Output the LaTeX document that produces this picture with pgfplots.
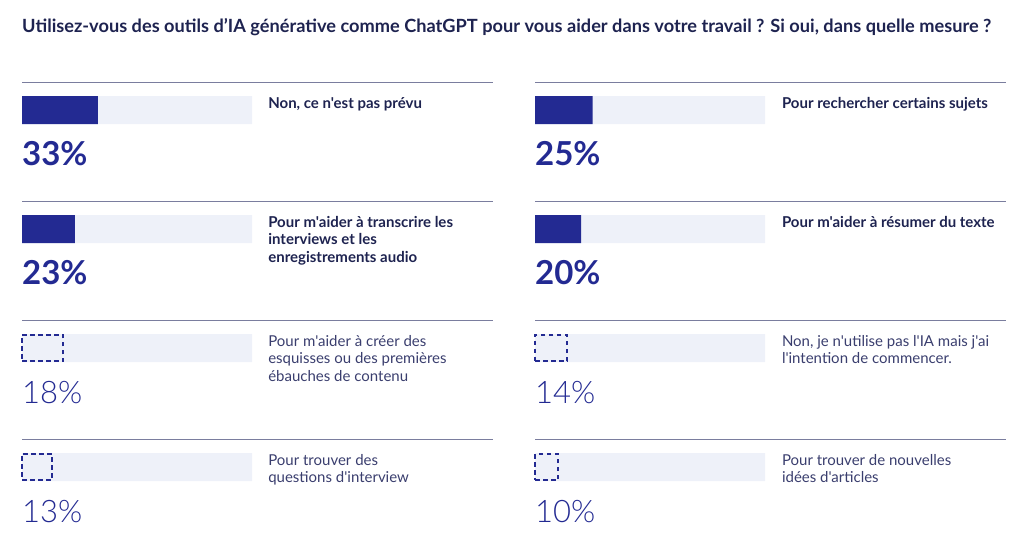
\documentclass[border=0pt]{standalone}
\usepackage{pgfplots}
\pgfplotsset{compat=1.18}
\usepackage{fontspec}
\newfontfamily\lato{Lato}
\newfontfamily\latolight{Lato Light}

\definecolor{navy}{HTML}{1E2350}
\definecolor{barblue}{HTML}{232A92}
\definecolor{track}{HTML}{EEF1F9}
\definecolor{rulecol}{HTML}{7A7D9E}
\definecolor{softtext}{HTML}{3A3E6E}

% one column of four panels, x in percent, one row per panel
\pgfplotsset{
  panel/.style={
    hide axis, clip=false,
    xmin=0, xmax=100, ymin=-0.5, ymax=3.5, y dir=reverse,
    x=2.3pt, y=119pt, anchor=north west,
  },
  track/.style={xbar, bar width=28pt, bar shift=0pt, fill=track, draw=none},
  solidbar/.style={xbar, bar width=28pt, bar shift=0pt, fill=barblue, draw=none},
  dashbar/.style={xbar, bar width=26pt, bar shift=0pt, fill=none, draw=barblue,
    line width=2pt, dash pattern=on 4.5pt off 3.5pt},
}
\tikzset{
  lab/.style={anchor=base west, inner sep=0pt, font=\lato\fontsize{15}{17}\selectfont},
  blab/.style={lab, text=navy, font=\lato\bfseries\fontsize{15}{17}\selectfont},
  rlab/.style={lab, text=softtext},
  bpct/.style={anchor=base west, inner sep=0pt, text=barblue, font=\lato\bfseries\fontsize{33}{33}\selectfont},
  lpct/.style={anchor=base west, inner sep=0pt, text=barblue, font=\latolight\fontsize{31}{31}\selectfont},
  rule/.style={draw=rulecol, line width=1pt},
}

\begin{document}
\begin{tikzpicture}
\path[use as bounding box] (0,0) rectangle (1024pt,-540pt);
\node[anchor=base west, inner sep=0pt, text=navy, font=\lato\bfseries\fontsize{18.2}{21}\selectfont]
  at (22pt,-33pt) {Utilisez-vous des outils d’IA générative comme ChatGPT pour vous aider dans votre travail ? Si oui, dans quelle mesure ?};

% left column
\begin{axis}[panel, at={(22pt,-50.5pt)}]
\addplot[track] coordinates {(100,0) (100,1) (100,2) (100,3)};
\addplot[solidbar] coordinates {(33,0) (23,1)};
\addplot[dashbar] coordinates {(18,2) (13,3)};
\draw[rule] (axis cs:0,-0.227) -- (axis cs:204.6,-0.227);
\draw[rule] (axis cs:0,0.773) -- (axis cs:204.6,0.773);
\draw[rule] (axis cs:0,1.773) -- (axis cs:204.6,1.773);
\draw[rule] (axis cs:0,2.773) -- (axis cs:204.6,2.773);
\node[blab] at (axis cs:107,-0.013) {Non, ce n'est pas prévu};
\node[blab] at (axis cs:107,0.987) {Pour m'aider à transcrire les};
\node[blab] at (axis cs:107,1.134) {interviews et les};
\node[blab] at (axis cs:107,1.281) {enregistrements audio};
\node[rlab] at (axis cs:107,1.987) {Pour m'aider à créer des};
\node[rlab] at (axis cs:107,2.134) {esquisses ou des premières};
\node[rlab] at (axis cs:107,2.281) {ébauches de contenu};
\node[rlab] at (axis cs:107,2.987) {Pour trouver des};
\node[rlab] at (axis cs:107,3.134) {questions d'interview};
\node[bpct] at (axis cs:0,0.466) {33\%};
\node[bpct] at (axis cs:0,1.466) {23\%};
\node[lpct] at (axis cs:0,2.466) {18\%};
\node[lpct] at (axis cs:0,3.466) {13\%};
\end{axis}

% right column
\begin{axis}[panel, at={(535pt,-50.5pt)}]
\addplot[track] coordinates {(100,0) (100,1) (100,2) (100,3)};
\addplot[solidbar] coordinates {(25,0) (20,1)};
\addplot[dashbar] coordinates {(14,2) (10,3)};
\draw[rule] (axis cs:0,-0.227) -- (axis cs:204.8,-0.227);
\draw[rule] (axis cs:0,0.773) -- (axis cs:204.8,0.773);
\draw[rule] (axis cs:0,1.773) -- (axis cs:204.8,1.773);
\draw[rule] (axis cs:0,2.773) -- (axis cs:204.8,2.773);
\node[blab] at (axis cs:107.3,-0.013) {Pour rechercher certains sujets};
\node[blab] at (axis cs:107.3,0.987) {Pour m'aider à résumer du texte};
\node[rlab] at (axis cs:107.3,1.987) {Non, je n'utilise pas l'IA mais j'ai};
\node[rlab] at (axis cs:107.3,2.134) {l'intention de commencer.};
\node[rlab] at (axis cs:107.3,2.987) {Pour trouver de nouvelles};
\node[rlab] at (axis cs:107.3,3.134) {idées d'articles};
\node[bpct] at (axis cs:0,0.466) {25\%};
\node[bpct] at (axis cs:0,1.466) {20\%};
\node[lpct] at (axis cs:0,2.466) {14\%};
\node[lpct] at (axis cs:0,3.466) {10\%};
\end{axis}
\end{tikzpicture}
\end{document}
